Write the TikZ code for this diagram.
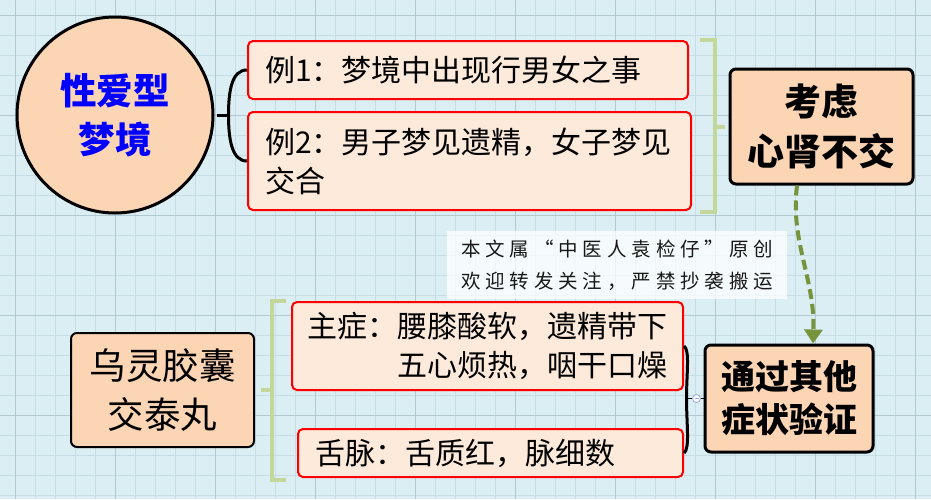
\documentclass[tikz,border=0pt]{standalone}
\usepackage{fontspec}
\setmainfont{Noto Sans CJK SC}
\newfontfamily\wmfont[LetterSpace=25]{Noto Sans CJK SC}
\usetikzlibrary{arrows.meta,calc}
\definecolor{bg}{HTML}{DBEEF4}
\definecolor{gridminor}{HTML}{C6DDE6}
\definecolor{gridmajor}{HTML}{B2C9D2}
\definecolor{peach}{HTML}{FCD5B5}
\definecolor{lightpeach}{HTML}{FDEADA}
\definecolor{brgreen}{HTML}{C4D79B}
\definecolor{arrowgreen}{HTML}{77933C}
\definecolor{titleblue}{HTML}{0000FF}
\definecolor{collapse}{HTML}{9FA8DA}
\tikzset{
  redbox/.style={draw=red, line width=2pt, fill=lightpeach, rounded corners=5pt,
    inner xsep=17pt, inner ysep=0pt, align=left,
    font=\fontsize{30pt}{39pt}\selectfont},
  keybox/.style={draw=black, line width=3pt, fill=peach, rounded corners=6pt,
    align=center, inner sep=0pt},
  blackbr/.style={draw=black, line width=3pt},
  greenbr/.style={draw=brgreen, line width=4pt},
  gridlinemin/.style={draw=gridminor, line width=1pt},
  gridlinemaj/.style={draw=gridmajor, line width=1pt},
}
\begin{document}
\begin{tikzpicture}[x=1pt,y=-1pt]
\useasboundingbox (0,0) rectangle (931,499);
\fill[bg] (0,0) rectangle (931,499);
\foreach \x in {15,35,...,915} \draw[gridlinemin] (\x,0) -- (\x,499);
\foreach \y in {15,35,...,495} \draw[gridlinemin] (0,\y) -- (931,\y);
\foreach \x in {15,115,...,915} \draw[gridlinemaj] (\x,0) -- (\x,499);
\foreach \y in {15,115,...,415} \draw[gridlinemaj] (0,\y) -- (931,\y);

% top group
\node[circle, draw=black, line width=3pt, fill=peach, minimum size=196pt, inner sep=0pt,
  align=center, text=titleblue, font=\bfseries\fontsize{36.5pt}{49pt}\selectfont]
  (topic) at (115,115) {性爱型\\梦境};
\node[redbox, text width=406pt, minimum height=58pt] (ex1) at (468,70)
  {例1：梦境中出现行男女之事};
\node[redbox, text width=409pt, minimum height=98pt] (ex2) at (469.5,161)
  {例2：男子梦见遗精，女子梦见\\交合};
\node[keybox, minimum width=183pt, minimum height=115pt,
  font=\bfseries\fontsize{37pt}{50pt}\selectfont] (consider) at (821.5,126.5)
  {考虑\\心肾不交};

\draw[blackbr] ($(topic.east)+(2,0)$) -- ++(12,0) coordinate (tc);
\draw[blackbr] (ex1.west) .. controls +(-15,0) and +(0,-25) .. (tc)
  .. controls +(0,25) and +(-15,0) .. (ex2.west);
\draw[greenbr] ($(ex1.north east)+(11,0)$) -- ++(15,0) |- ($(ex2.south east)+(8,1)$);
\draw[greenbr] ($(consider.west)+(-16,0)$) -- ++(12,0);

% watermark
\node[fill=white, fill opacity=0.75, text opacity=1, minimum width=340pt, minimum height=68pt,
  inner sep=0pt, align=center, text=black!90, font=\wmfont\fontsize{19.5pt}{32pt}\selectfont]
  (wm) at (617,265) {本文属“中医人袁检仔”原创\\欢迎转发关注，严禁抄袭搬运};

% bottom group
\node[draw=black, line width=2pt, fill=peach, rounded corners=6pt, align=center,
  inner sep=0pt, minimum width=183pt, minimum height=114pt,
  font=\fontsize{36.5pt}{49pt}\selectfont] (med) at (162.5,390) {乌灵胶囊\\交泰丸};
\node[redbox, text width=361pt, inner xsep=15pt, minimum height=88pt] (mainsym) at (487.5,346)
  {主症：腰膝酸软，遗精带下\\\phantom{主症：}五心烦热，咽干口燥};
\node[redbox, text width=351pt, minimum height=48pt] (tongue) at (490.5,453)
  {舌脉：舌质红，脉细数};
\node[keybox, minimum width=168pt, minimum height=107pt,
  font=\bfseries\fontsize{34pt}{43pt}\selectfont] (verify) at (789,398.5)
  {通过其他\\症状验证};

\draw[greenbr] ($(mainsym.north west)+(-5,0)$) -- ++(-14,0) |- ($(tongue.south west)+(-11,2)$);
\draw[greenbr] ($(med.east)+(6,0)$) -- ++(13,0);

\coordinate (rb) at ($(verify.west)+(-17,0)$);
\draw[blackbr] (mainsym.east) .. controls +(6,4) and +(0,-25) .. (rb)
  .. controls +(0,25) and +(6,-4) .. (tongue.east);
\node[circle, draw=collapse, fill=white, line width=0.8pt, minimum size=8pt, inner sep=0pt]
  (col) at ($(verify.west)+(-7,0)$) {};
\draw[black, line width=1.5pt] (rb) -- (col.west);
\draw[black, line width=1.5pt] (col.east) -- (verify.west);
\draw[collapse, line width=0.8pt] ($(col.center)+(-2,0)$) -- ($(col.center)+(2,0)$);

% arrow
\draw[arrowgreen, line width=4pt, dash pattern=on 10pt off 5pt,
  -{Triangle[width=18pt,length=14pt]}]
  ($(consider.south)+(-24.5,0)$) .. controls +(-7,56) and +(2,-65) .. ($(verify.north)+(24,0)$);
\end{tikzpicture}
\end{document}
